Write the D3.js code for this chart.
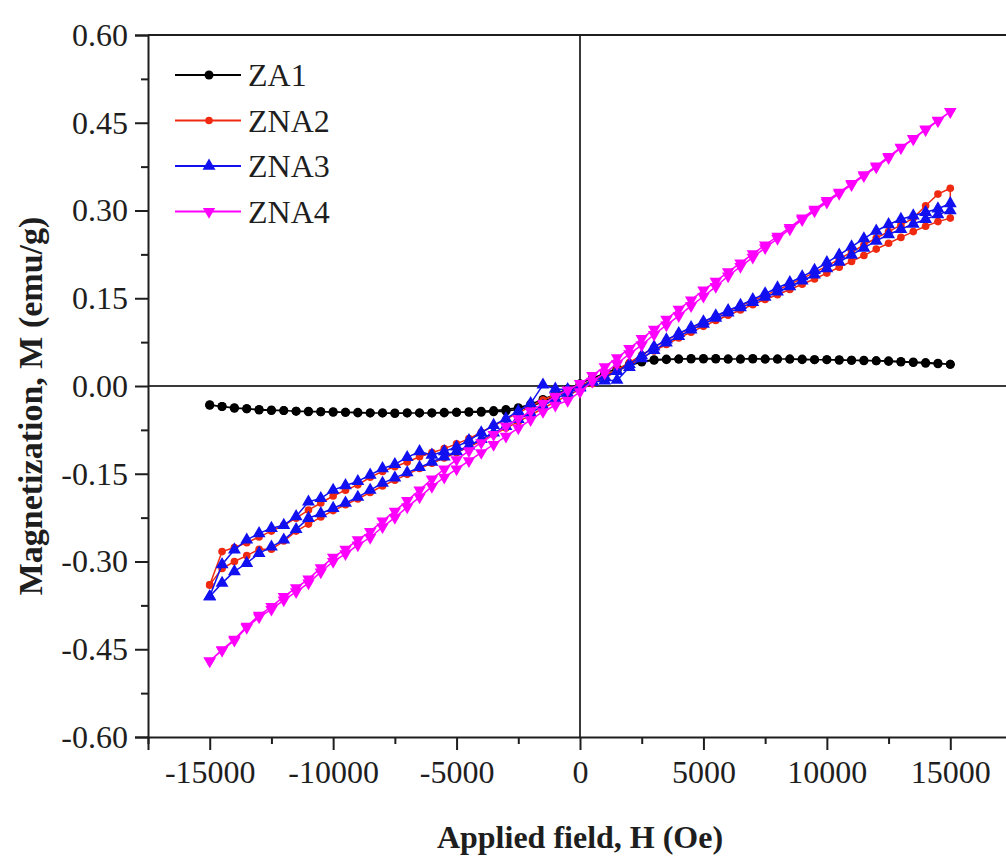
<!DOCTYPE html>
<html>
<head>
<meta charset="utf-8">
<script src="https://cdn.jsdelivr.net/npm/d3@7"></script>
<style>
  html, body { margin: 0; padding: 0; background: #ffffff; }
  #chart { width: 1006px; height: 858px; }
</style>
</head>
<body>
<div id="chart"></div>
<script>
// M-H hysteresis loops, ZA1 / ZNA2 / ZNA3 / ZNA4
// Field sweep in 500 Oe steps; each sample has an "up" sweep (-H -> +H)
// and a "down" sweep (+H -> -H), both listed here in increasing field order.

const fieldH = [
  -15000, -14500, -14000, -13500, -13000, -12500, -12000, -11500, -11000, -10500,
  -10000, -9500, -9000, -8500, -8000, -7500, -7000, -6500, -6000, -5500,
  -5000, -4500, -4000, -3500, -3000, -2500, -2000, -1500, -1000, -500,
  0, 500, 1000, 1500, 2000, 2500, 3000, 3500, 4000, 4500,
  5000, 5500, 6000, 6500, 7000, 7500, 8000, 8500, 9000, 9500,
  10000, 10500, 11000, 11500, 12000, 12500, 13000, 13500, 14000, 14500,
  15000
];

const za1Up = [
  -0.032, -0.035, -0.037, -0.039, -0.040, -0.041, -0.042, -0.043, -0.043, -0.044,
  -0.044, -0.045, -0.045, -0.046, -0.046, -0.046, -0.046, -0.046, -0.046, -0.046,
  -0.045, -0.045, -0.045, -0.044, -0.043, -0.040, -0.035, -0.027, -0.018, -0.009,
  0.000, 0.009, 0.018, 0.027, 0.035, 0.041, 0.044, 0.045, 0.046, 0.046,
  0.046, 0.046, 0.046, 0.046, 0.046, 0.046, 0.046, 0.046, 0.046, 0.045,
  0.045, 0.045, 0.044, 0.044, 0.043, 0.043, 0.042, 0.041, 0.040, 0.039,
  0.037
];
const za1Down = [
  -0.033, -0.035, -0.038, -0.039, -0.041, -0.042, -0.042, -0.043, -0.044, -0.044,
  -0.045, -0.045, -0.046, -0.046, -0.046, -0.047, -0.046, -0.046, -0.046, -0.045,
  -0.045, -0.044, -0.043, -0.042, -0.040, -0.037, -0.031, -0.023, -0.014, -0.005,
  0.004, 0.013, 0.022, 0.030, 0.037, 0.042, 0.045, 0.046, 0.046, 0.047,
  0.047, 0.047, 0.046, 0.046, 0.047, 0.046, 0.046, 0.046, 0.045, 0.045,
  0.045, 0.044, 0.044, 0.043, 0.043, 0.042, 0.041, 0.040, 0.039, 0.038,
  0.037
];

const zna2Up = [
  -0.340, -0.312, -0.300, -0.290, -0.279, -0.279, -0.265, -0.248, -0.236, -0.224,
  -0.213, -0.203, -0.193, -0.182, -0.171, -0.161, -0.151, -0.141, -0.132, -0.123,
  -0.114, -0.104, -0.094, -0.083, -0.072, -0.061, -0.050, -0.038, -0.027, -0.016,
  -0.006, 0.004, 0.014, 0.025, 0.036, 0.048, 0.060, 0.071, 0.082, 0.092,
  0.102, 0.112, 0.121, 0.130, 0.139, 0.148, 0.156, 0.165, 0.174, 0.183,
  0.193, 0.203, 0.213, 0.223, 0.234, 0.244, 0.254, 0.264, 0.273, 0.281,
  0.287
];
const zna2Down = [
  -0.340, -0.283, -0.276, -0.268, -0.258, -0.248, -0.238, -0.226, -0.212, -0.200,
  -0.188, -0.178, -0.169, -0.156, -0.146, -0.138, -0.130, -0.121, -0.114, -0.107,
  -0.099, -0.090, -0.079, -0.068, -0.057, -0.046, -0.035, -0.024, -0.015, -0.007,
  0.000, 0.009, 0.018, 0.028, 0.040, 0.053, 0.066, 0.078, 0.089, 0.099,
  0.109, 0.119, 0.128, 0.137, 0.146, 0.155, 0.164, 0.174, 0.184, 0.194,
  0.205, 0.217, 0.229, 0.241, 0.253, 0.264, 0.275, 0.287, 0.308, 0.328,
  0.338
];

const zna3Up = [
  -0.360, -0.337, -0.317, -0.303, -0.286, -0.275, -0.263, -0.245, -0.226, -0.218,
  -0.209, -0.200, -0.190, -0.178, -0.166, -0.157, -0.148, -0.139, -0.130, -0.121,
  -0.112, -0.102, -0.091, -0.080, -0.069, -0.057, -0.046, -0.034, -0.022, -0.012,
  -0.003, 0.007, 0.009, 0.010, 0.032, 0.047, 0.061, 0.074, 0.085, 0.096,
  0.106, 0.116, 0.125, 0.134, 0.143, 0.152, 0.161, 0.170, 0.180, 0.190,
  0.201, 0.212, 0.224, 0.236, 0.248, 0.259, 0.268, 0.277, 0.285, 0.293,
  0.300
];
const zna3Down = [
  -0.360, -0.305, -0.280, -0.263, -0.252, -0.243, -0.238, -0.223, -0.198, -0.192,
  -0.178, -0.170, -0.163, -0.152, -0.141, -0.134, -0.122, -0.112, -0.118, -0.112,
  -0.104, -0.093, -0.080, -0.067, -0.056, -0.043, -0.030, 0.002, -0.005, -0.006,
  -0.002, 0.008, 0.016, 0.025, 0.037, 0.052, 0.067, 0.079, 0.090, 0.100,
  0.110, 0.120, 0.129, 0.138, 0.148, 0.158, 0.168, 0.177, 0.187, 0.198,
  0.211, 0.224, 0.238, 0.252, 0.265, 0.276, 0.285, 0.291, 0.297, 0.303,
  0.312
];

const zna4Up = [
  -0.470, -0.452, -0.435, -0.413, -0.395, -0.382, -0.366, -0.352, -0.337, -0.318,
  -0.300, -0.287, -0.272, -0.259, -0.241, -0.225, -0.207, -0.190, -0.172, -0.156,
  -0.142, -0.128, -0.114, -0.100, -0.086, -0.072, -0.058, -0.044, -0.033, -0.025,
  -0.010, 0.008, 0.022, 0.038, 0.055, 0.070, 0.088, 0.104, 0.120, 0.137,
  0.153, 0.170, 0.188, 0.204, 0.220, 0.236, 0.252, 0.268, 0.284, 0.299,
  0.314, 0.329, 0.344, 0.359, 0.374, 0.390, 0.407, 0.422, 0.438, 0.453,
  0.469
];
const zna4Down = [
  -0.470, -0.451, -0.433, -0.411, -0.392, -0.377, -0.360, -0.345, -0.330, -0.311,
  -0.293, -0.279, -0.263, -0.249, -0.231, -0.214, -0.196, -0.178, -0.159, -0.142,
  -0.126, -0.111, -0.097, -0.083, -0.069, -0.056, -0.043, -0.030, -0.018, -0.007,
  0.004, 0.018, 0.033, 0.048, 0.064, 0.081, 0.097, 0.114, 0.131, 0.147,
  0.164, 0.179, 0.195, 0.210, 0.226, 0.241, 0.256, 0.271, 0.287, 0.302,
  0.317, 0.331, 0.346, 0.361, 0.376, 0.392, 0.408, 0.423, 0.439, 0.454,
  0.469
];

const seriesNames = ["ZA1", "ZNA2", "ZNA3", "ZNA4"];
const seriesUp = [za1Up, zna2Up, zna3Up, zna4Up];
const seriesDown = [za1Down, zna2Down, zna3Down, zna4Down];

const xTicks = [-15000, -10000, -5000, 0, 5000, 10000, 15000];
const yTicks = [-0.60, -0.45, -0.30, -0.15, 0.00, 0.15, 0.30, 0.45, 0.60];

function drawChart() {
  const width = 1006, height = 858;
  const left = 148, right = 1012, top = 35, bottom = 737;
  const font = "'Liberation Serif', 'Times New Roman', Times, serif";
  const ink = "#1e1e1e";

  const colors = ["#000000", "#f02a10", "#1010f0", "#ff00ff"];
  const shapes = [d3.symbolCircle, d3.symbolCircle, d3.symbolTriangle, d3.symbolTriangle];
  const sizes = [64, 46, 72, 66];
  const flips = [0, 0, 0, 180];

  const x = d3.scaleLinear().domain([-17500, 17500]).range([left, right]);
  const y = d3.scaleLinear().domain([-0.6, 0.6]).range([bottom, top]);

  const svg = d3.select("#chart").append("svg")
    .attr("width", width)
    .attr("height", height)
    .attr("viewBox", [0, 0, width, height])
    .style("font-family", font);

  svg.append("rect").attr("width", width).attr("height", height).attr("fill", "#ffffff");

  svg.append("defs").append("clipPath").attr("id", "plot-clip")
    .append("rect")
    .attr("x", left).attr("y", top)
    .attr("width", right - left).attr("height", bottom - top);

  // zero cross lines
  svg.append("line")
    .attr("x1", x(0)).attr("x2", x(0)).attr("y1", top).attr("y2", bottom)
    .attr("stroke", "#3a3a3a").attr("stroke-width", 2);
  svg.append("line")
    .attr("x1", left).attr("x2", right).attr("y1", y(0)).attr("y2", y(0))
    .attr("stroke", "#3a3a3a").attr("stroke-width", 2);

  // series
  const plot = svg.append("g").attr("clip-path", "url(#plot-clip)");
  const line = d3.line()
    .x(function(d) { return x(d[0]); })
    .y(function(d) { return y(d[1]); });

  seriesNames.forEach(function(name, s) {
    const up = fieldH.map(function(h, i) { return [h, seriesUp[s][i]]; });
    const down = fieldH.map(function(h, i) { return [h, seriesDown[s][i]]; }).reverse();
    const loop = up.concat(down);

    const g = plot.append("g").attr("class", "series-" + name);
    g.append("path")
      .datum(loop)
      .attr("fill", "none")
      .attr("stroke", colors[s])
      .attr("stroke-width", 1.5)
      .attr("d", line);

    g.selectAll("path.marker")
      .data(loop)
      .join("path")
      .attr("class", "marker")
      .attr("d", d3.symbol().type(shapes[s]).size(sizes[s]))
      .attr("transform", function(d) {
        return "translate(" + x(d[0]) + "," + y(d[1]) + ")" +
          (flips[s] ? " rotate(" + flips[s] + ")" : "");
      })
      .attr("fill", colors[s]);
  });

  // frame: top and right edges
  svg.append("line")
    .attr("x1", left).attr("x2", right).attr("y1", top).attr("y2", top)
    .attr("stroke", ink).attr("stroke-width", 2);
  svg.append("line")
    .attr("x1", right).attr("x2", right).attr("y1", top).attr("y2", bottom)
    .attr("stroke", ink).attr("stroke-width", 2);

  // bottom axis with minor ticks
  const xAxis = d3.axisBottom(x)
    .tickValues(xTicks)
    .tickSize(13)
    .tickPadding(10)
    .tickFormat(function(d) { return String(d); });
  const gx = svg.append("g")
    .attr("transform", "translate(0," + bottom + ")")
    .call(xAxis)
    .attr("font-family", null);
  gx.select(".domain").attr("stroke", ink).attr("stroke-width", 2);
  gx.selectAll(".tick line").attr("stroke", ink).attr("stroke-width", 2);
  gx.selectAll(".tick text")
    .attr("fill", ink)
    .style("font-family", font)
    .style("font-size", "32px");

  const xMinor = d3.axisBottom(x)
    .tickValues([-17500, -12500, -7500, -2500, 2500, 7500, 12500])
    .tickSize(7)
    .tickFormat("");
  const gxm = svg.append("g")
    .attr("transform", "translate(0," + bottom + ")")
    .call(xMinor);
  gxm.select(".domain").remove();
  gxm.selectAll(".tick line").attr("stroke", ink).attr("stroke-width", 2);

  // left axis with minor ticks
  const yAxis = d3.axisLeft(y)
    .tickValues(yTicks)
    .tickSize(13)
    .tickPadding(7)
    .tickFormat(function(d) { return d3.format(".2f")(d).replace("\u2212", "-"); });
  const gy = svg.append("g")
    .attr("transform", "translate(" + left + ",0)")
    .call(yAxis)
    .attr("font-family", null);
  gy.select(".domain").attr("stroke", ink).attr("stroke-width", 2);
  gy.selectAll(".tick line").attr("stroke", ink).attr("stroke-width", 2);
  gy.selectAll(".tick text")
    .attr("fill", ink)
    .style("font-family", font)
    .style("font-size", "32px");

  const yMinor = d3.axisLeft(y)
    .tickValues([-0.525, -0.375, -0.225, -0.075, 0.075, 0.225, 0.375, 0.525])
    .tickSize(7)
    .tickFormat("");
  const gym = svg.append("g")
    .attr("transform", "translate(" + left + ",0)")
    .call(yMinor);
  gym.select(".domain").remove();
  gym.selectAll(".tick line").attr("stroke", ink).attr("stroke-width", 2);

  // axis titles
  svg.append("text")
    .attr("x", x(0))
    .attr("y", 848)
    .attr("text-anchor", "middle")
    .attr("fill", ink)
    .style("font-family", font)
    .style("font-weight", "bold")
    .style("font-size", "32px")
    .text("Applied field, H (Oe)");

  svg.append("text")
    .attr("transform", "translate(42,406) rotate(-90)")
    .attr("text-anchor", "middle")
    .attr("fill", ink)
    .style("font-family", font)
    .style("font-weight", "bold")
    .style("font-size", "34px")
    .text("Magnetization, M (emu/g)");

  // legend
  const legend = svg.append("g").attr("transform", "translate(175,75)");
  seriesNames.forEach(function(name, s) {
    const row = legend.append("g").attr("transform", "translate(0," + (s * 45.5) + ")");
    row.append("line")
      .attr("x1", 0).attr("x2", 66).attr("y1", 0).attr("y2", 0)
      .attr("stroke", colors[s]).attr("stroke-width", 1.8);
    row.append("path")
      .attr("d", d3.symbol().type(shapes[s]).size(sizes[s])())
      .attr("transform", "translate(34,0)" + (flips[s] ? " rotate(" + flips[s] + ")" : ""))
      .attr("fill", colors[s]);
    row.append("text")
      .attr("x", 73)
      .attr("y", 11)
      .attr("fill", ink)
      .style("font-family", font)
      .style("font-size", "32px")
      .text(name);
  });
}

drawChart();
</script>
</body>
</html>
